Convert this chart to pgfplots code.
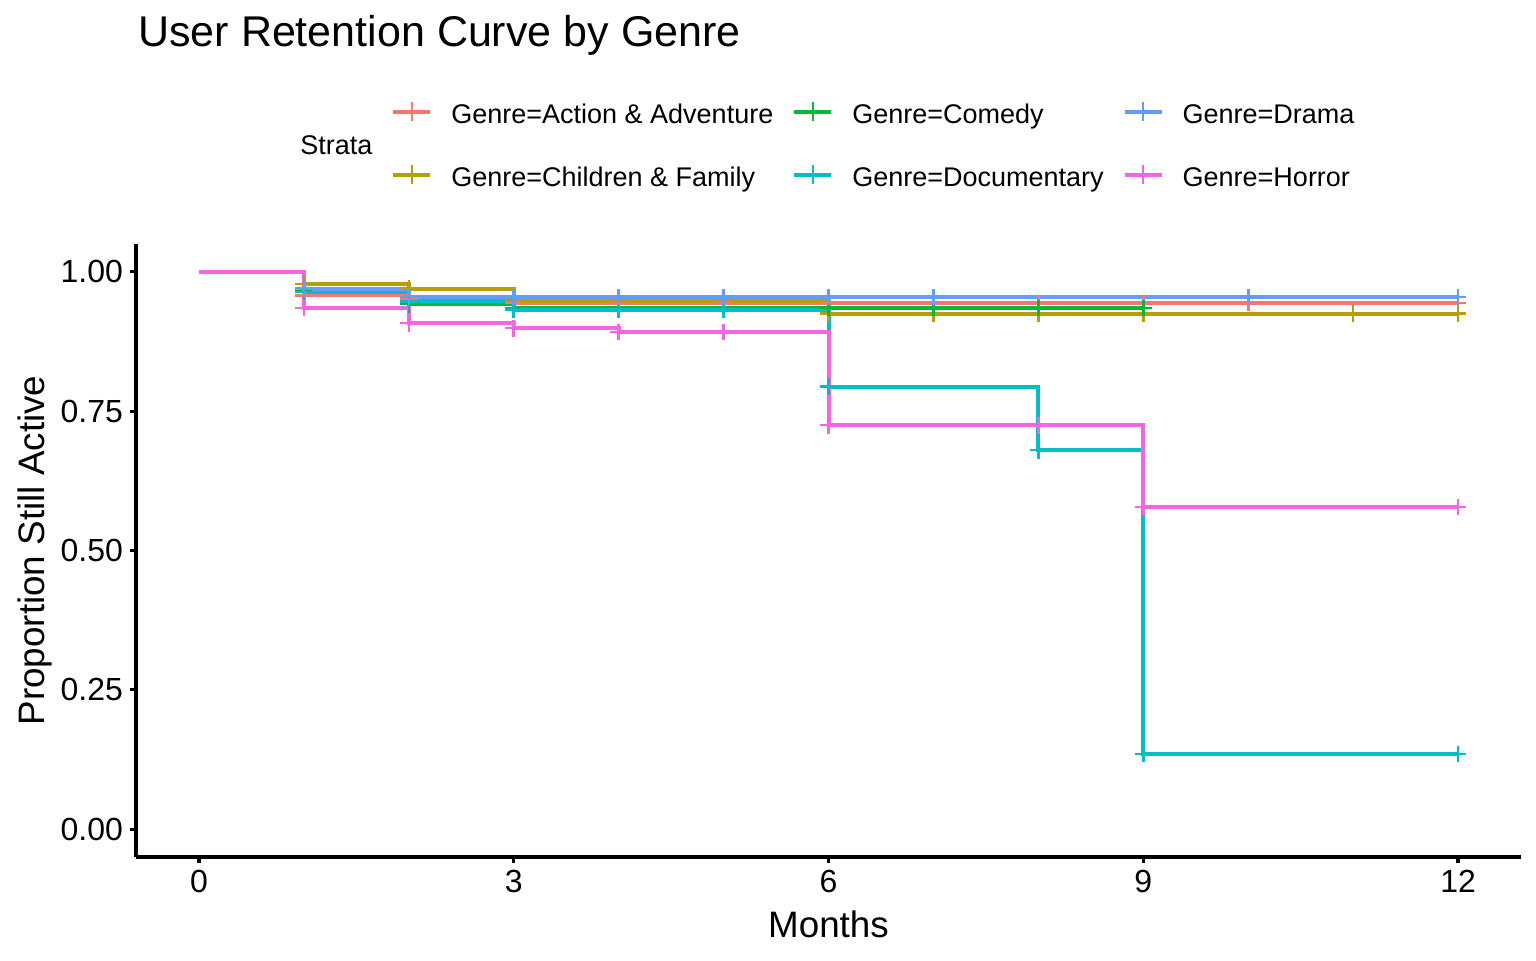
\documentclass[border=0pt]{standalone}
\usepackage{fontspec}
\setmainfont{Liberation Sans}
\usepackage{pgfplots}
\pgfplotsset{compat=1.18}
\definecolor{cA}{HTML}{F8766D}
\definecolor{cB}{HTML}{B79F00}
\definecolor{cC}{HTML}{00BA38}
\definecolor{cD}{HTML}{00BFC4}
\definecolor{cE}{HTML}{619CFF}
\definecolor{cF}{HTML}{F564E3}
\pgfplotsset{censor/.style={forget plot, only marks, mark=+, mark size=4.2pt, mark options={line width=1.3pt}}}
\begin{document}
\begin{tikzpicture}[x=1pt,y=1pt]
\path[use as bounding box] (0,0) rectangle (768,480);
\begin{axis}[
  at={(68pt,51.5pt)}, anchor=south west,
  scale only axis, width=692.5pt, height=306.5pt,
  xmin=-0.6, xmax=12.6, ymin=-0.05, ymax=1.05,
  axis x line*=bottom, axis y line*=left,
  axis line style={line width=1.6pt, black},
  xtick={0,3,6,9,12}, ytick={0,0.25,0.5,0.75,1},
  tick align=outside, major tick length=3pt,
  every tick/.style={black, line width=1.6pt},
  tick label style={font=\fontsize{16}{19}\selectfont, /pgf/number format/assume math mode=true},
  yticklabel style={/pgf/number format/.cd, fixed, fixed zerofill, precision=2},
  xlabel={Months},
  xlabel style={font=\fontsize{18.4}{22}\selectfont, at={(axis description cs:0.5,-0.132)}, anchor=base},
  ylabel={Proportion Still Active},
  ylabel style={font=\fontsize{18.4}{22}\selectfont, at={(axis description cs:-0.0657,0.5)}, anchor=base},
  title={User Retention Curve by Genre},
  title style={font=\fontsize{21.5}{26}\selectfont, at={(axis description cs:0.0014,1.3192)}, anchor=base west, inner sep=0pt, yshift=-5.3pt},
  legend columns=2, transpose legend,
  legend cell align=left,
  legend image code/.code={
    \draw[#1, line width=2pt] (0pt,2.6pt) -- (18.5pt,2.6pt);
    \draw[#1, line width=1.3pt] (9.25pt,-2.1pt) -- (9.25pt,7.3pt);
  },
  legend style={at={(axis description cs:0.1841,1.2338)}, anchor=north west, draw=none, fill=none,
    inner sep=0pt, font=\fontsize{13.5}{16}\selectfont,
    nodes={inner sep=0pt, text height=10pt, text depth=3pt},
    column sep=9.5pt, row sep=17pt,
    /tikz/every even column/.append style={column sep=9.5pt}},
]
\addplot[const plot, cA, line width=2pt] coordinates {(0,1) (1,0.958) (2,0.950) (3,0.944) (12,0.944)};
\addlegendentry{Genre=Action \& Adventure}
\addplot[const plot, cB, line width=2pt] coordinates {(0,1) (1,0.978) (2,0.970) (3,0.948) (6,0.925) (12,0.925)};
\addlegendentry{Genre=Children \& Family}
\addplot[const plot, cC, line width=2pt] coordinates {(0,1) (1,0.965) (2,0.942) (3,0.935) (9,0.935)};
\addlegendentry{Genre=Comedy}
\addplot[const plot, cD, line width=2pt] coordinates {(0,1) (1,0.964) (2,0.947) (3,0.932) (6,0.794) (8,0.680) (9,0.135) (12,0.135)};
\addlegendentry{Genre=Documentary}
\addplot[const plot, cE, line width=2pt] coordinates {(0,1) (1,0.970) (2,0.955) (12,0.955)};
\addlegendentry{Genre=Drama}
\addplot[const plot, cF, line width=2pt] coordinates {(0,1) (1,0.935) (2,0.908) (3,0.899) (4,0.892) (6,0.725) (9,0.578) (12,0.578)};
\addlegendentry{Genre=Horror}
% censor marks
\addplot[censor, cA] coordinates {(1,0.958) (2,0.950) (3,0.944) (4,0.944) (5,0.944) (6,0.944) (7,0.944) (8,0.944) (9,0.944) (10,0.944) (12,0.944)};
\addplot[censor, cB] coordinates {(1,0.978) (2,0.970) (3,0.948) (6,0.925) (7,0.925) (8,0.925) (9,0.925) (11,0.925) (12,0.925)};
\addplot[censor, cC] coordinates {(1,0.965) (2,0.942) (3,0.935) (4,0.935) (5,0.935) (6,0.935) (7,0.935) (8,0.935) (9,0.935)};
\addplot[censor, cD] coordinates {(1,0.964) (2,0.947) (3,0.932) (4,0.932) (5,0.932) (6,0.794) (8,0.680) (9,0.135) (12,0.135)};
\addplot[censor, cE] coordinates {(1,0.970) (2,0.955) (3,0.955) (4,0.955) (5,0.955) (6,0.955) (7,0.955) (10,0.955) (12,0.955)};
\addplot[censor, cF] coordinates {(1,0.935) (2,0.908) (3,0.899) (4,0.892) (5,0.892) (6,0.725) (8,0.725) (9,0.578) (12,0.578)};
\end{axis}
\node[anchor=base west, inner sep=0pt, font=\fontsize{13.5}{16}\selectfont] at (150,402.65) {Strata};
\end{tikzpicture}
\end{document}
